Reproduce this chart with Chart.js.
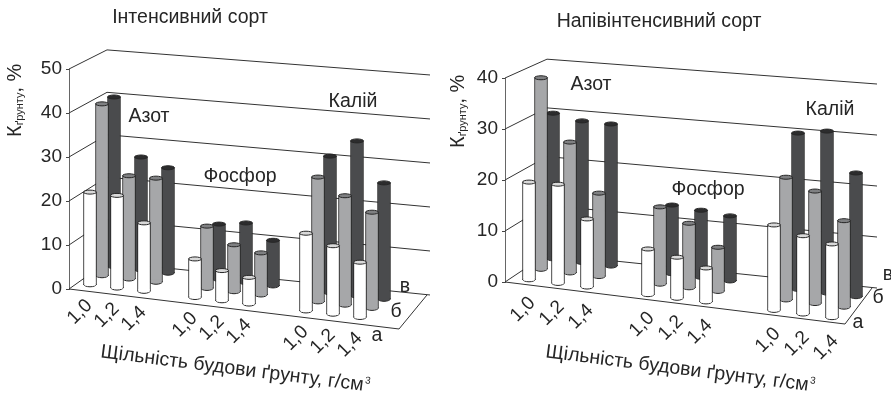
<!DOCTYPE html>
<html>
<head>
<meta charset="utf-8">
<style>
  body { margin: 0; background: #fff; }
  canvas { position: absolute; top: 0; }
</style>
<script src="https://cdn.jsdelivr.net/npm/chart.js@4"></script>
</head>
<body>
<canvas id="left-chart" style="left:0"></canvas>
<canvas id="right-chart" style="left:445px"></canvas>
<script>
// Data
const densities = ['1,0', '1,2', '1,4'];
const rowNames = ['а', 'б', 'в'];

const intensiveA = [21, 21, 15.5, 8.7, 6.8, 6, 17.6, 15.5, 12.5];
const intensiveB = [39, 23.4, 23.6, 14.1, 10.6, 9.5, 28.3, 24.8, 21.8];
const intensiveC = [38.5, 25.6, 23.9, 12.5, 13.5, 10.3, 31, 35.2, 26.4];

const semiA = [19.1, 19.4, 13.3, 8.9, 8, 6.6, 16.7, 15.3, 14.4];
const semiB = [37.5, 25.6, 16.3, 15.1, 12.6, 8.6, 24, 22, 16.9];
const semiC = [28.5, 27.7, 27.8, 13.4, 13.1, 12.7, 30.6, 31.7, 24.2];

const intensiveTicks = [0, 10, 20, 30, 40, 50];
const semiTicks = [0, 10, 20, 30, 40];

const FONT = '"Liberation Sans", Arial, sans-serif';
const INK = '#262626';
const barFill = ['#ffffff', '#a6a7a9', '#4a4b4d'];
const capFill = ['#d9d9d9', '#7f8082', '#2c2c2d'];

function makePanel(cfg) {
    const datasets = [];

    // back wall and left wall lines, one polyline per tick
    cfg.ticks.forEach(v => {
        datasets.push(wallLine([
            { x: 0, y: v },
            { x: cfg.backLeftX, y: cfg.backLeftZero + cfg.backLeftK * v },
            { x: cfg.backRightX, y: cfg.backRightZero + v }
        ]));
    });
    // front edge of the floor
    datasets.push(wallLine([
        { x: 0, y: 0 },
        { x: cfg.frontX, y: cfg.frontDrop },
        { x: cfg.floorBackX, y: cfg.backRightZero }
    ]));

    cfg.rows.forEach((values, row) => {
        const points = values.map((value, i) => {
            const group = Math.floor(i / 3);
            const x = cfg.groupStart[group] + cfg.barStep * (i % 3) + cfg.rowShiftX * row;
            const floor = cfg.baseStart + cfg.baseSlope * (x - cfg.groupStart[0]) + cfg.rowShiftY * row;
            return { x: x, y: [floor, floor + value] };
        });
        datasets.push({
            type: 'bar',
            data: points,
            grouped: false,
            barThickness: 13,
            backgroundColor: barFill[row],
            borderColor: INK,
            borderWidth: 1,
            borderSkipped: false,
            clip: false,
            order: row + 1,
            capColor: capFill[row],
            bodyColor: barFill[row]
        });
    });

    const cylinders = {
        id: 'cylinders',
        afterDatasetDraw(chart, args) {
            if (args.meta.type !== 'bar') return;
            const ctx = chart.ctx;
            const ds = chart.data.datasets[args.index];
            ctx.save();
            ctx.strokeStyle = INK;
            ctx.lineWidth = 1;
            args.meta.data.forEach(el => {
                // floating bars that cross zero can come back with y and base swapped
                const bottom = Math.max(el.y, el.base);
                const top = Math.min(el.y, el.base);
                const rx = el.width / 2;
                ctx.beginPath();
                ctx.ellipse(el.x, bottom - 0.5, rx, 2.8, 0, 0, Math.PI);
                ctx.fillStyle = ds.bodyColor;
                ctx.fill();
                ctx.stroke();
                // hide the flat bottom edge of the rectangle
                ctx.fillStyle = ds.bodyColor;
                ctx.fillRect(el.x - rx + 1, bottom - 2, rx * 2 - 2, 3);
                ctx.beginPath();
                ctx.ellipse(el.x, top, rx, 2, 0, 0, Math.PI * 2);
                ctx.fillStyle = ds.capColor;
                ctx.fill();
                ctx.stroke();
            });
            ctx.restore();
        }
    };

    const labels = {
        id: 'panelLabels',
        afterDraw(chart) {
            const ctx = chart.ctx;
            ctx.save();
            ctx.fillStyle = INK;
            ctx.textBaseline = 'middle';
            ctx.textAlign = 'center';

            // rotated density labels under the front row
            const front = chart.getDatasetMeta(datasets.length - 3).data;
            front.forEach((el, i) => {
                ctx.save();
                ctx.translate(el.x + cfg.tickDx, Math.max(el.y, el.base) + cfg.tickDy);
                ctx.rotate(-Math.PI / 4);
                ctx.font = '19px ' + FONT;
                ctx.fillText(densities[i % 3], 0, 0);
                ctx.restore();
            });

            ctx.font = '19.5px ' + FONT;
            ctx.fillText(cfg.title, cfg.titleAt[0], cfg.titleAt[1]);
            cfg.nutrients.forEach(n => ctx.fillText(n[0], n[1], n[2]));
            cfg.rowLabels.forEach((p, i) => ctx.fillText(rowNames[i], p[0], p[1]));

            // axis title along the floor
            ctx.save();
            ctx.translate(cfg.xTitleAt[0], cfg.xTitleAt[1]);
            ctx.rotate(cfg.xTitleAngle);
            ctx.font = '19.5px ' + FONT;
            const main = 'Щільність будови ґрунту, г/см';
            const w = ctx.measureText(main).width;
            ctx.textAlign = 'left';
            ctx.fillText(main, -w / 2 - 3, 0);
            ctx.font = '10px ' + FONT;
            ctx.fillText('3', w / 2 - 2, -5);
            ctx.restore();

            // vertical axis title
            ctx.save();
            ctx.translate(cfg.yTitleAt[0], cfg.yTitleAt[1]);
            ctx.rotate(-Math.PI / 2);
            ctx.textAlign = 'left';
            ctx.font = '20px ' + FONT;
            ctx.fillText('К', 0, 0);
            let off = ctx.measureText('К').width;
            ctx.font = '11px ' + FONT;
            ctx.fillText('ґрунту', off, 5);
            off += ctx.measureText('ґрунту').width;
            ctx.font = '20px ' + FONT;
            ctx.fillText(', %', off, 0);
            ctx.restore();

            ctx.restore();
        }
    };

    const canvas = document.getElementById(cfg.canvas);
    canvas.width = cfg.width;
    canvas.height = 394;
    return new Chart(canvas, {
        data: { datasets: datasets },
        plugins: [cylinders, labels],
        options: {
            responsive: false,
            animation: false,
            devicePixelRatio: 1,
            layout: { padding: { top: cfg.top, bottom: 394 - cfg.bottom, left: 0, right: 0 } },
            plugins: { legend: { display: false }, tooltip: { enabled: false } },
            scales: {
                x: {
                    type: 'linear',
                    display: false,
                    offset: false,
                    min: 0,
                    max: cfg.width - cfg.axisX
                },
                y: {
                    min: 0,
                    max: cfg.ticks[cfg.ticks.length - 1],
                    afterFit: scale => { scale.width = cfg.axisX; },
                    border: { color: '#666666' },
                    grid: { drawOnChartArea: false, tickLength: 3, color: '#444444' },
                    ticks: {
                        stepSize: 10,
                        padding: 4,
                        color: INK,
                        font: { family: FONT, size: 19 }
                    }
                }
            }
        }
    });
}

function wallLine(points) {
    return {
        type: 'line',
        data: points,
        borderColor: '#333333',
        borderWidth: 1,
        pointRadius: 0,
        tension: 0,
        clip: false,
        order: 10
    };
}

makePanel({
    canvas: 'left-chart', width: 445, axisX: 69, top: 69, bottom: 289,
    ticks: intensiveTicks,
    rows: [intensiveA, intensiveB, intensiveC],
    backLeftX: 38, backLeftZero: 6.14, backLeftK: 0.964,
    backRightX: 361, backRightZero: -1.36,
    frontX: 330, frontDrop: -9.09, floorBackX: 358,
    groupStart: [21, 126, 237], barStep: 27,
    rowShiftX: 12, rowShiftY: 2.39,
    baseStart: 1.02, baseSlope: -0.0275,
    tickDx: -10, tickDy: 27.5,
    title: 'Інтенсивний сорт', titleAt: [190, 18],
    nutrients: [['Азот', 149, 117], ['Фосфор', 240, 177], ['Калій', 353, 102]],
    rowLabels: [[377, 336], [396, 312], [405, 287]],
    xTitleAt: [235, 369], xTitleAngle: 0.127,
    yTitleAt: [15, 137]
});

makePanel({
    canvas: 'right-chart', width: 446, axisX: 60, top: 78, bottom: 282,
    ticks: semiTicks,
    rows: [semiA, semiB, semiC],
    backLeftX: 42, backLeftZero: 5.49, backLeftK: 0.955,
    backRightX: 372, backRightZero: -1.18,
    frontX: 340, frontDrop: -8.24, floorBackX: 367,
    groupStart: [24, 143, 269], barStep: 29,
    rowShiftX: 12, rowShiftY: 2.35,
    baseStart: 0.49, baseSlope: -0.0245,
    tickDx: -6, tickDy: 30,
    title: 'Напівінтенсивний сорт', titleAt: [214, 22],
    nutrients: [['Азот', 146, 85], ['Фосфор', 263, 190], ['Калій', 385, 110]],
    rowLabels: [[413, 323], [433, 298], [443, 275]],
    xTitleAt: [235, 369], xTitleAngle: 0.127,
    yTitleAt: [13, 148]
});
</script>
</body>
</html>
